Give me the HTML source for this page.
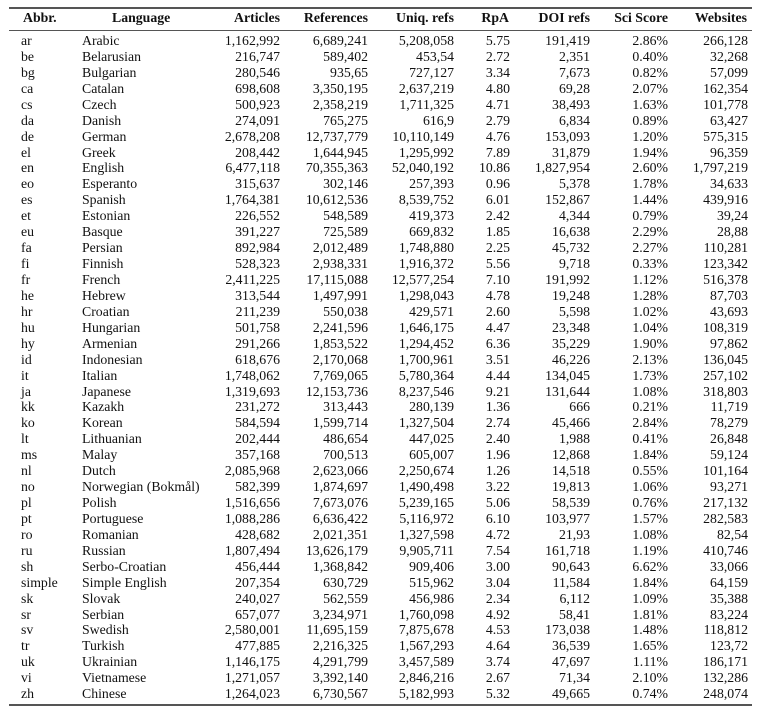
<!DOCTYPE html>
<html><head><meta charset="utf-8"><style>
body{margin:0;background:#fff;width:770px;height:715px;position:relative;overflow:hidden;font-family:"Liberation Serif",serif;font-size:13.8px;color:#111}
.rule{position:absolute;left:9px;width:743px;background:#555}
.r{position:absolute;left:0;width:770px;height:16px;line-height:16px}
.r span{position:absolute;white-space:nowrap}
.r span:nth-child(1){left:21px}
.r span:nth-child(2){left:82px}
.r span:nth-child(3){right:490px}
.r span:nth-child(4){right:402px}
.r span:nth-child(5){right:316px}
.r span:nth-child(6){right:260px}
.r span:nth-child(7){right:180px}
.r span:nth-child(8){right:102px}
.r span:nth-child(9){right:22px}
.h{font-weight:bold}
.h span:nth-child(1){left:23px}
.h span:nth-child(2){left:112px}
.h span:nth-child(6){right:261px}
.h span:nth-child(9){right:23px}
</style></head><body>
<div class="rule" style="top:7px;height:1.6px"></div>
<div class="rule" style="top:30px;height:1px"></div>
<div class="rule" style="top:704px;height:1.6px"></div>
<div class="r h" style="top:10px"><span>Abbr.</span><span>Language</span><span>Articles</span><span>References</span><span>Uniq. refs</span><span>RpA</span><span>DOI refs</span><span>Sci Score</span><span>Websites</span></div>
<div id="rows"></div>
<div class="r" style="top:33px"><span>ar</span><span>Arabic</span><span>1,162,992</span><span>6,689,241</span><span>5,208,058</span><span>5.75</span><span>191,419</span><span>2.86%</span><span>266,128</span></div>
<div class="r" style="top:48.9px"><span>be</span><span>Belarusian</span><span>216,747</span><span>589,402</span><span>453,54</span><span>2.72</span><span>2,351</span><span>0.40%</span><span>32,268</span></div>
<div class="r" style="top:64.9px"><span>bg</span><span>Bulgarian</span><span>280,546</span><span>935,65</span><span>727,127</span><span>3.34</span><span>7,673</span><span>0.82%</span><span>57,099</span></div>
<div class="r" style="top:80.8px"><span>ca</span><span>Catalan</span><span>698,608</span><span>3,350,195</span><span>2,637,219</span><span>4.80</span><span>69,28</span><span>2.07%</span><span>162,354</span></div>
<div class="r" style="top:96.7px"><span>cs</span><span>Czech</span><span>500,923</span><span>2,358,219</span><span>1,711,325</span><span>4.71</span><span>38,493</span><span>1.63%</span><span>101,778</span></div>
<div class="r" style="top:112.7px"><span>da</span><span>Danish</span><span>274,091</span><span>765,275</span><span>616,9</span><span>2.79</span><span>6,834</span><span>0.89%</span><span>63,427</span></div>
<div class="r" style="top:128.6px"><span>de</span><span>German</span><span>2,678,208</span><span>12,737,779</span><span>10,110,149</span><span>4.76</span><span>153,093</span><span>1.20%</span><span>575,315</span></div>
<div class="r" style="top:144.5px"><span>el</span><span>Greek</span><span>208,442</span><span>1,644,945</span><span>1,295,992</span><span>7.89</span><span>31,879</span><span>1.94%</span><span>96,359</span></div>
<div class="r" style="top:160.4px"><span>en</span><span>English</span><span>6,477,118</span><span>70,355,363</span><span>52,040,192</span><span>10.86</span><span>1,827,954</span><span>2.60%</span><span>1,797,219</span></div>
<div class="r" style="top:176.4px"><span>eo</span><span>Esperanto</span><span>315,637</span><span>302,146</span><span>257,393</span><span>0.96</span><span>5,378</span><span>1.78%</span><span>34,633</span></div>
<div class="r" style="top:192.3px"><span>es</span><span>Spanish</span><span>1,764,381</span><span>10,612,536</span><span>8,539,752</span><span>6.01</span><span>152,867</span><span>1.44%</span><span>439,916</span></div>
<div class="r" style="top:208.2px"><span>et</span><span>Estonian</span><span>226,552</span><span>548,589</span><span>419,373</span><span>2.42</span><span>4,344</span><span>0.79%</span><span>39,24</span></div>
<div class="r" style="top:224.2px"><span>eu</span><span>Basque</span><span>391,227</span><span>725,589</span><span>669,832</span><span>1.85</span><span>16,638</span><span>2.29%</span><span>28,88</span></div>
<div class="r" style="top:240.1px"><span>fa</span><span>Persian</span><span>892,984</span><span>2,012,489</span><span>1,748,880</span><span>2.25</span><span>45,732</span><span>2.27%</span><span>110,281</span></div>
<div class="r" style="top:256px"><span>fi</span><span>Finnish</span><span>528,323</span><span>2,938,331</span><span>1,916,372</span><span>5.56</span><span>9,718</span><span>0.33%</span><span>123,342</span></div>
<div class="r" style="top:272px"><span>fr</span><span>French</span><span>2,411,225</span><span>17,115,088</span><span>12,577,254</span><span>7.10</span><span>191,992</span><span>1.12%</span><span>516,378</span></div>
<div class="r" style="top:287.9px"><span>he</span><span>Hebrew</span><span>313,544</span><span>1,497,991</span><span>1,298,043</span><span>4.78</span><span>19,248</span><span>1.28%</span><span>87,703</span></div>
<div class="r" style="top:303.8px"><span>hr</span><span>Croatian</span><span>211,239</span><span>550,038</span><span>429,571</span><span>2.60</span><span>5,598</span><span>1.02%</span><span>43,693</span></div>
<div class="r" style="top:319.7px"><span>hu</span><span>Hungarian</span><span>501,758</span><span>2,241,596</span><span>1,646,175</span><span>4.47</span><span>23,348</span><span>1.04%</span><span>108,319</span></div>
<div class="r" style="top:335.7px"><span>hy</span><span>Armenian</span><span>291,266</span><span>1,853,522</span><span>1,294,452</span><span>6.36</span><span>35,229</span><span>1.90%</span><span>97,862</span></div>
<div class="r" style="top:351.6px"><span>id</span><span>Indonesian</span><span>618,676</span><span>2,170,068</span><span>1,700,961</span><span>3.51</span><span>46,226</span><span>2.13%</span><span>136,045</span></div>
<div class="r" style="top:367.5px"><span>it</span><span>Italian</span><span>1,748,062</span><span>7,769,065</span><span>5,780,364</span><span>4.44</span><span>134,045</span><span>1.73%</span><span>257,102</span></div>
<div class="r" style="top:383.5px"><span>ja</span><span>Japanese</span><span>1,319,693</span><span>12,153,736</span><span>8,237,546</span><span>9.21</span><span>131,644</span><span>1.08%</span><span>318,803</span></div>
<div class="r" style="top:399.4px"><span>kk</span><span>Kazakh</span><span>231,272</span><span>313,443</span><span>280,139</span><span>1.36</span><span>666</span><span>0.21%</span><span>11,719</span></div>
<div class="r" style="top:415.3px"><span>ko</span><span>Korean</span><span>584,594</span><span>1,599,714</span><span>1,327,504</span><span>2.74</span><span>45,466</span><span>2.84%</span><span>78,279</span></div>
<div class="r" style="top:431.3px"><span>lt</span><span>Lithuanian</span><span>202,444</span><span>486,654</span><span>447,025</span><span>2.40</span><span>1,988</span><span>0.41%</span><span>26,848</span></div>
<div class="r" style="top:447.2px"><span>ms</span><span>Malay</span><span>357,168</span><span>700,513</span><span>605,007</span><span>1.96</span><span>12,868</span><span>1.84%</span><span>59,124</span></div>
<div class="r" style="top:463.1px"><span>nl</span><span>Dutch</span><span>2,085,968</span><span>2,623,066</span><span>2,250,674</span><span>1.26</span><span>14,518</span><span>0.55%</span><span>101,164</span></div>
<div class="r" style="top:479px"><span>no</span><span>Norwegian (Bokmål)</span><span>582,399</span><span>1,874,697</span><span>1,490,498</span><span>3.22</span><span>19,813</span><span>1.06%</span><span>93,271</span></div>
<div class="r" style="top:495px"><span>pl</span><span>Polish</span><span>1,516,656</span><span>7,673,076</span><span>5,239,165</span><span>5.06</span><span>58,539</span><span>0.76%</span><span>217,132</span></div>
<div class="r" style="top:510.9px"><span>pt</span><span>Portuguese</span><span>1,088,286</span><span>6,636,422</span><span>5,116,972</span><span>6.10</span><span>103,977</span><span>1.57%</span><span>282,583</span></div>
<div class="r" style="top:526.8px"><span>ro</span><span>Romanian</span><span>428,682</span><span>2,021,351</span><span>1,327,598</span><span>4.72</span><span>21,93</span><span>1.08%</span><span>82,54</span></div>
<div class="r" style="top:542.8px"><span>ru</span><span>Russian</span><span>1,807,494</span><span>13,626,179</span><span>9,905,711</span><span>7.54</span><span>161,718</span><span>1.19%</span><span>410,746</span></div>
<div class="r" style="top:558.7px"><span>sh</span><span>Serbo-Croatian</span><span>456,444</span><span>1,368,842</span><span>909,406</span><span>3.00</span><span>90,643</span><span>6.62%</span><span>33,066</span></div>
<div class="r" style="top:574.6px"><span>simple</span><span>Simple English</span><span>207,354</span><span>630,729</span><span>515,962</span><span>3.04</span><span>11,584</span><span>1.84%</span><span>64,159</span></div>
<div class="r" style="top:590.6px"><span>sk</span><span>Slovak</span><span>240,027</span><span>562,559</span><span>456,986</span><span>2.34</span><span>6,112</span><span>1.09%</span><span>35,388</span></div>
<div class="r" style="top:606.5px"><span>sr</span><span>Serbian</span><span>657,077</span><span>3,234,971</span><span>1,760,098</span><span>4.92</span><span>58,41</span><span>1.81%</span><span>83,224</span></div>
<div class="r" style="top:622.4px"><span>sv</span><span>Swedish</span><span>2,580,001</span><span>11,695,159</span><span>7,875,678</span><span>4.53</span><span>173,038</span><span>1.48%</span><span>118,812</span></div>
<div class="r" style="top:638.3px"><span>tr</span><span>Turkish</span><span>477,885</span><span>2,216,325</span><span>1,567,293</span><span>4.64</span><span>36,539</span><span>1.65%</span><span>123,72</span></div>
<div class="r" style="top:654.3px"><span>uk</span><span>Ukrainian</span><span>1,146,175</span><span>4,291,799</span><span>3,457,589</span><span>3.74</span><span>47,697</span><span>1.11%</span><span>186,171</span></div>
<div class="r" style="top:670.2px"><span>vi</span><span>Vietnamese</span><span>1,271,057</span><span>3,392,140</span><span>2,846,216</span><span>2.67</span><span>71,34</span><span>2.10%</span><span>132,286</span></div>
<div class="r" style="top:686.1px"><span>zh</span><span>Chinese</span><span>1,264,023</span><span>6,730,567</span><span>5,182,993</span><span>5.32</span><span>49,665</span><span>0.74%</span><span>248,074</span></div>
</body></html>
